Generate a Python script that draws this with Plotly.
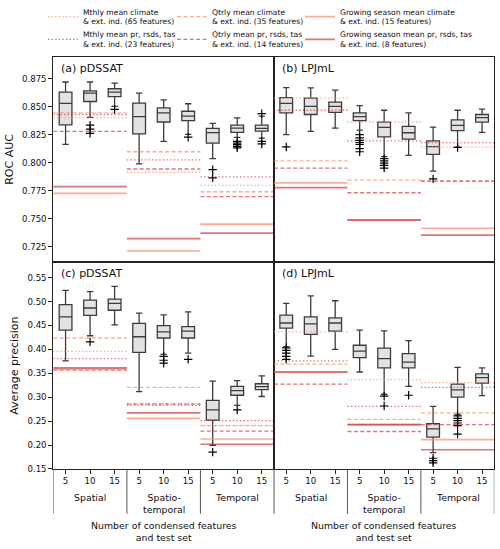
import plotly.graph_objects as go
from plotly.subplots import make_subplots

# ---------------- data ----------------
groups = ["Spatial", "Spatio-<br>temporal", "Temporal"]
n_feat_labels = ["5", "10", "15"]

# ROC AUC, pDSSAT (9 boxes: Spatial 5/10/15, Spatio-temporal 5/10/15, Temporal 5/10/15)
roc_pd_hi = [0.872, 0.872, 0.871, 0.862, 0.856, 0.8526, 0.835, 0.840, 0.8415]
roc_pd_q3 = [0.863, 0.864, 0.866, 0.8532, 0.8489, 0.8459, 0.8306, 0.8335, 0.8335]
roc_pd_med = [0.853, 0.862, 0.863, 0.841, 0.8445, 0.8416, 0.8268, 0.8308, 0.8306]
roc_pd_q1 = [0.8337, 0.8546, 0.859, 0.8256, 0.8363, 0.8375, 0.8175, 0.8271, 0.8282]
roc_pd_lo = [0.8163, 0.8404, 0.8503, 0.7989, 0.8189, 0.8253, 0.8036, 0.8225, 0.8219]
roc_pd_out = [[], [0.8335, 0.830, 0.8262], [0.8475], [], [], [0.8227], [0.7937, 0.7864],
              [0.8189, 0.8175, 0.816, 0.8145, 0.8132], [0.8437, 0.8189, 0.8167]]

# ROC AUC, LPJmL
roc_lp_hi = [0.867, 0.8668, 0.8648, 0.8509, 0.8468, 0.8445, 0.8317, 0.8468, 0.8477]
roc_lp_q3 = [0.8581, 0.8576, 0.854, 0.8445, 0.8361, 0.8323, 0.8195, 0.8381, 0.843]
roc_lp_med = [0.8529, 0.8503, 0.8503, 0.841, 0.8314, 0.8267, 0.8143, 0.8332, 0.8402]
roc_lp_q1 = [0.8445, 0.843, 0.8448, 0.8376, 0.823, 0.821, 0.8073, 0.8285, 0.8361]
roc_lp_lo = [0.825, 0.828, 0.8308, 0.8291, 0.8053, 0.8064, 0.7925, 0.814, 0.827]
roc_lp_out = [[0.814], [], [], [0.825, 0.8221, 0.8198, 0.818, 0.8163, 0.8125, 0.8097],
              [0.8036, 0.8015, 0.7995, 0.7975, 0.7951], [], [0.7855], [0.8135], []]

# Average precision, pDSSAT
ap_pd_hi = [0.5234, 0.5207, 0.5316, 0.4756, 0.4721, 0.4783, 0.3336, 0.3348, 0.3445]
ap_pd_q3 = [0.4934, 0.5029, 0.5049, 0.4545, 0.4496, 0.4475, 0.2933, 0.3226, 0.3281]
ap_pd_med = [0.468, 0.4865, 0.4961, 0.4264, 0.4367, 0.4381, 0.2734, 0.3137, 0.322]
ap_pd_q1 = [0.4402, 0.4709, 0.4818, 0.3937, 0.4238, 0.4238, 0.2523, 0.3041, 0.3158]
ap_pd_lo = [0.3758, 0.4285, 0.451, 0.3117, 0.3896, 0.3922, 0.1996, 0.283, 0.3015]
ap_pd_out = [[], [0.4156], [], [], [0.3855, 0.3773, 0.3711], [0.3793], [0.1853], [0.2734], []]

# Average precision, LPJmL
ap_lp_hi = [0.4961, 0.5118, 0.5016, 0.4402, 0.4387, 0.4182, 0.2809, 0.3623, 0.3615]
ap_lp_q3 = [0.4715, 0.468, 0.466, 0.4086, 0.4025, 0.391, 0.2447, 0.3275, 0.3486]
ap_lp_med = [0.4551, 0.4531, 0.4551, 0.3963, 0.3807, 0.3732, 0.2338, 0.3152, 0.341]
ap_lp_q1 = [0.4443, 0.4312, 0.4381, 0.3828, 0.3615, 0.3615, 0.2167, 0.3, 0.3295]
ap_lp_lo = [0.4059, 0.386, 0.3998, 0.3527, 0.3062, 0.3226, 0.184, 0.264, 0.3035]
ap_lp_out = [[0.4033, 0.3978, 0.3922, 0.3855, 0.3793], [], [], [], [0.3021, 0.2816], [0.3041],
             [0.1724, 0.1676, 0.1627], [0.2611, 0.2558, 0.2509, 0.2461, 0.2406, 0.223], []]

# Reference (non-condensed) feature sets, per test set [Spatial, Spatio-temporal, Temporal]
series_names = [
    "Mthly mean climate<br>& ext. ind. (65 features)",
    "Mthly mean pr, rsds, tas<br>& ext. ind. (23 features)",
    "Qtrly mean climate<br>& ext. ind. (35 features)",
    "Qtrly mean pr, rsds, tas<br>& ext. ind. (14 features)",
    "Growing season mean climate<br>& ext. ind. (15 features)",
    "Growing season mean pr, rsds, tas<br>& ext. ind. (8 features)",
]
roc_pd_ref = [
    [0.840, 0.7914, 0.7797],
    [0.843, 0.8024, 0.7873],
    [0.8445, 0.8097, 0.774],
    [0.828, 0.7943, 0.7696],
    [0.7726, 0.7211, 0.745],
    [0.7786, 0.7322, 0.737],
]
roc_lp_ref = [
    [0.8576, 0.8363, 0.814],
    [0.8468, 0.8195, 0.8178],
    [0.8015, 0.7843, 0.7835],
    [0.7951, 0.7731, 0.7835],
    [0.782, 0.749, 0.7414],
    [0.7777, 0.7487, 0.7353],
]
ap_pd_ref = [
    [0.3957, 0.287, 0.241],
    [0.3807, 0.283, 0.2509],
    [0.4238, 0.3205, 0.2406],
    [0.3568, 0.2855, 0.2291],
    [0.3588, 0.2558, 0.2127],
    [0.3615, 0.2673, 0.2017],
]
ap_lp_ref = [
    [0.4367, 0.3369, 0.3307],
    [0.3758, 0.2809, 0.3205],
    [0.369, 0.2537, 0.2673],
    [0.3275, 0.2283, 0.2426],
    [0.3527, 0.2426, 0.2113],
    [0.3527, 0.2426, 0.1902],
]

panel_titles = ["(a) pDSSAT", "(b) LPJmL", "(c) pDSSAT", "(d) LPJmL"]

# ---------------- styles ----------------
FONT = "DejaVu Sans"
LIGHT = "rgba(252,146,114,0.75)"
DARK = "rgba(203,24,29,0.6)"
DOT = "1.4px,2.2px"
DASH = "4px,2.4px"
series_style = [
    (LIGHT, DOT, 1.3),
    (DARK, DOT, 1.3),
    (LIGHT, DASH, 1.3),
    (DARK, DASH, 1.3),
    (LIGHT, "solid", 1.7),
    (DARK, "solid", 1.7),
]
series_legend = ["legend", "legend", "legend2", "legend2", "legend3", "legend3"]
BOX_LINE = "#3c3c3c"
BOX_FILL = "#e2e2e2"

fig = make_subplots(rows=2, cols=2, horizontal_spacing=0, vertical_spacing=0)

panels = [
    (1, 1, roc_pd_hi, roc_pd_q3, roc_pd_med, roc_pd_q1, roc_pd_lo, roc_pd_out, roc_pd_ref),
    (1, 2, roc_lp_hi, roc_lp_q3, roc_lp_med, roc_lp_q1, roc_lp_lo, roc_lp_out, roc_lp_ref),
    (2, 1, ap_pd_hi, ap_pd_q3, ap_pd_med, ap_pd_q1, ap_pd_lo, ap_pd_out, ap_pd_ref),
    (2, 2, ap_lp_hi, ap_lp_q3, ap_lp_med, ap_lp_q1, ap_lp_lo, ap_lp_out, ap_lp_ref),
]

for pi, (r, c, hi, q3, med, q1, lo, out, ref) in enumerate(panels):
    # reference lines spanning each test-set group
    for si, vals in enumerate(ref):
        xs, ys = [], []
        for g, v in enumerate(vals):
            xs += [g * 3, g * 3 + 3, None]
            ys += [v, v, None]
        col, dash, w = series_style[si]
        fig.add_trace(go.Scatter(
            x=xs, y=ys, mode="lines", name=series_names[si],
            line=dict(color=col, dash=dash, width=w),
            legend=series_legend[si],
            showlegend=(pi == 0), hoverinfo="skip"),
            row=r, col=c)
    # boxes
    for i in range(9):
        pos = i + 0.5
        fig.add_trace(go.Box(
            x=[pos], q1=[q1[i]], median=[med[i]], q3=[q3[i]],
            lowerfence=[lo[i]], upperfence=[hi[i]],
            width=0.52, whiskerwidth=0.5, boxpoints=False,
            fillcolor=BOX_FILL, line=dict(color=BOX_LINE, width=1.3),
            showlegend=False, hoverinfo="skip"), row=r, col=c)
        if out[i]:
            fig.add_trace(go.Scatter(
                x=[pos] * len(out[i]), y=out[i], mode="markers",
                marker=dict(symbol="cross-thin", size=6, color="black",
                            line=dict(color="black", width=1.2)),
                showlegend=False, hoverinfo="skip"), row=r, col=c)

# ---------------- layout ----------------
W, H = 500, 549
def px_x(p):
    return p / W
def px_y(p):
    return 1 - p / H

x_left, x_mid, x_right = 53.3, 274.0, 494.3
y_top, y_mid, y_bot = 50.7, 261.0, 472.3

tickvals = [i + 0.5 for i in range(9)]
ticktext = n_feat_labels * 3

axis_common = dict(showline=True, linecolor="#222", linewidth=1, mirror=True,
                   showgrid=False, zeroline=False)

for k, (r, c) in enumerate([(1, 1), (1, 2), (2, 1), (2, 2)]):
    xd = [px_x(x_left), px_x(x_mid)] if c == 1 else [px_x(x_mid), px_x(x_right)]
    yd = [px_y(y_mid), px_y(y_top)] if r == 1 else [px_y(y_bot), px_y(y_mid)]
    fig.update_xaxes(domain=xd, range=[0, 9], tickvals=tickvals, ticktext=ticktext,
                     ticks="outside" if r == 2 else "", ticklen=4, tickcolor="#222",
                     showticklabels=(r == 2),
                     tickfont=dict(family=FONT, size=8.6, color="#111"),
                     **axis_common, row=r, col=c)
    if r == 1:
        yr = [0.711, 0.8947]
        yt = [0.725, 0.75, 0.775, 0.8, 0.825, 0.85, 0.875]
        fmt = ".3f"
        ttl = "ROC AUC"
    else:
        yr = [0.15, 0.582]
        yt = [0.15, 0.2, 0.25, 0.3, 0.35, 0.4, 0.45, 0.5, 0.55]
        fmt = ".2f"
        ttl = "Average precision"
    fig.update_yaxes(domain=yd, range=yr, tickvals=yt, tickformat=fmt,
                     ticks="outside" if c == 1 else "", ticklen=4, tickcolor="#222",
                     showticklabels=(c == 1),
                     tickfont=dict(family=FONT, size=8.6, color="#111"),
                     title=dict(text=ttl if c == 1 else "",
                                font=dict(family=FONT, size=11, color="#111"),
                                standoff=6),
                     **axis_common, row=r, col=c)

annotations = []
shapes = []
xrefs = ["x", "x2", "x3", "x4"]
yrefs = ["y", "y2", "y3", "y4"]
for k in range(4):
    annotations.append(dict(
        text=panel_titles[k], xref=xrefs[k] + " domain", yref=yrefs[k] + " domain",
        x=0.025, y=0.985, xanchor="left", yanchor="top", showarrow=False,
        font=dict(family=FONT, size=11, color="#111")))

for xr in ["x3", "x4"]:
    for g in range(3):
        annotations.append(dict(
            text=groups[g], xref=xr, yref="paper", x=g * 3 + 1.5, y=px_y(494),
            xanchor="center", yanchor="top", showarrow=False,
            font=dict(family=FONT, size=9.4, color="#111")))
    for xv in [0, 3, 6, 9]:
        shapes.append(dict(type="line", xref=xr, yref="paper", x0=xv, x1=xv,
                           y0=px_y(y_bot), y1=px_y(518),
                           line=dict(color="#555", width=1)))
    annotations.append(dict(
        text="Number of condensed features<br>and test set", xref=xr, yref="paper",
        x=4.5, y=px_y(522), xanchor="center", yanchor="top", showarrow=False,
        font=dict(family=FONT, size=9.4, color="#111")))

def legend_box(xpx):
    return dict(orientation="v", x=px_x(xpx), y=1 + 7 / H, xanchor="left", yanchor="top",
                itemwidth=30, traceorder="normal",
                font=dict(family=FONT, size=7.6, color="#111"),
                bgcolor="rgba(0,0,0,0)", tracegroupgap=0)

fig.update_layout(
    width=W, height=H, margin=dict(l=0, r=0, t=0, b=0),
    paper_bgcolor="white", plot_bgcolor="white",
    font=dict(family=FONT, color="#111"),
    annotations=annotations, shapes=shapes,
    showlegend=True,
    legend=legend_box(43),
    legend2=legend_box(172),
    legend3=legend_box(300),
)

fig.write_html("out.html")
